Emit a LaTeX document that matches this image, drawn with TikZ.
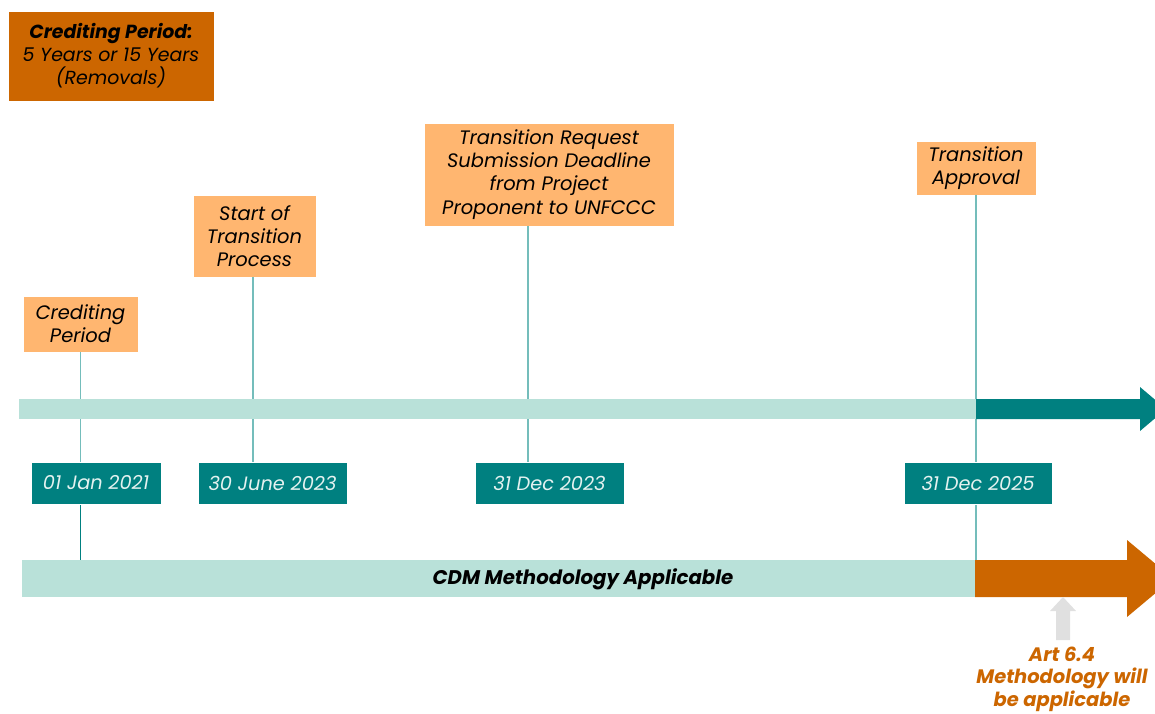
\documentclass[tikz,border=0pt]{standalone}
\usepackage{fontspec}
\setmainfont{Poppins}
\usetikzlibrary{positioning}
\definecolor{dorange}{HTML}{CC6600}
\definecolor{lorange}{HTML}{FFB670}
\definecolor{lteal}{HTML}{B9E1D9}
\definecolor{dteal}{HTML}{008080}
\definecolor{vline}{HTML}{74BDBB}
\definecolor{datetext}{HTML}{E4F2F0}
\definecolor{grayarrow}{HTML}{E0E0E0}
\tikzset{
  lbox/.style={fill=lorange, draw=white, line width=0.5pt, align=center, inner sep=0pt,
    font=\fontsize{14.6}{17.4}\selectfont\itshape},
  datebox/.style={fill=dteal, draw=white, line width=0.5pt, inner sep=0pt, minimum height=31.5pt,
    text=datetext, font=\fontsize{14.5}{17}\selectfont\itshape},
  tick/.style={draw=vline, line width=0.9pt},
}
\begin{document}
\begin{tikzpicture}[x=0.75pt,y=-0.75pt]
\useasboundingbox (0,0) rectangle (1155,713);
% x positions of ticks
\coordinate (x1) at (80.5,0);
\coordinate (x2) at (253,0);
\coordinate (x3) at (528,0);
\coordinate (x4) at (976,0);
% top note
\node[fill=dorange, draw=white, line width=0.5pt, minimum width=154.5pt, minimum height=67.5pt, inner sep=0pt,
  align=center, font=\fontsize{14.2}{17.2}\selectfont\itshape] (note) at (111,56)
  {\textbf{Crediting Period:}\\5 Years or 15 Years\\(Removals)};
% label boxes
\node[lbox, minimum width=86pt, minimum height=42pt] (cp) at (80.5,324) {Crediting\\Period};
\node[lbox, minimum width=92pt, minimum height=61.5pt] (st) at (254.5,236) {Start of\\Transition\\Process};
\node[lbox, minimum width=187.5pt, minimum height=77pt] (tr) at (549,174.5) {Transition Request\\Submission Deadline\\from Project\\Proponent to UNFCCC};
\node[lbox, minimum width=90pt, minimum height=40.5pt] (ta) at (976,168) {Transition\\Approval};
% bars (coordinates for connectors)
\coordinate (bot1) at (80.5,560);
\coordinate (bot4) at (976,560);
% ticks
\draw[tick] (cp.south) -- (cp.south |- 0,462) coordinate (d1top);
\draw[tick] (st.south -| x2) -- (x2 |- 0,462) coordinate (d2top);
\draw[tick] (tr.south -| x3) -- (x3 |- 0,462) coordinate (d3top);
\draw[tick] (ta.south -| x4) -- (bot4);
\draw[draw=dteal, line width=0.8pt] (80.5,504) coordinate (d1bot) -- (bot1);
% top bar
\path[fill=lteal] (19,399) rectangle (976,419);
\path[fill=dteal] (976,399) -- (1140,399) -- (1140,387) -- (1166,409) -- (1140,431) -- (1140,419) -- (976,419) -- cycle;
% date boxes
\node[datebox, minimum width=97.5pt] (d1) at (96,483) {01 Jan 2021};
\node[datebox, minimum width=112pt] (d2) at (272.5,483) {30 June 2023};
\node[datebox, minimum width=112pt] (d3) at (549.5,483) {31 Dec 2023};
\node[datebox, minimum width=111pt] (d4) at (978,483) {31 Dec 2025};
% bottom bar
\node[fill=lteal, inner sep=0pt, minimum width=714.75pt, minimum height=27.75pt] (cdm) at (498.5,578.5) {};
\node[inner sep=0pt, font=\fontsize{14.8}{17}\selectfont\bfseries\itshape] (cdmtext) at (583,579) {CDM Methodology Applicable};
\path[fill=dorange] (975,560) -- (1127,560) -- (1127,540) -- (1173,578.5) -- (1127,617) -- (1127,597) -- (975,597) -- cycle;
% gray arrow
\coordinate (ga) at (1063,640);
\path[fill=grayarrow] (1056,640) -- (1056,611) -- (1050,611) -- (1063,597) -- (1076,611) -- (1070,611) -- (1070,640) -- cycle;
\node[align=center, text=dorange, inner sep=0pt, font=\fontsize{14.6}{17}\selectfont\bfseries\itshape] (art) at (1062,679)
  {Art 6.4\\Methodology will\\be applicable};
\end{tikzpicture}
\end{document}
